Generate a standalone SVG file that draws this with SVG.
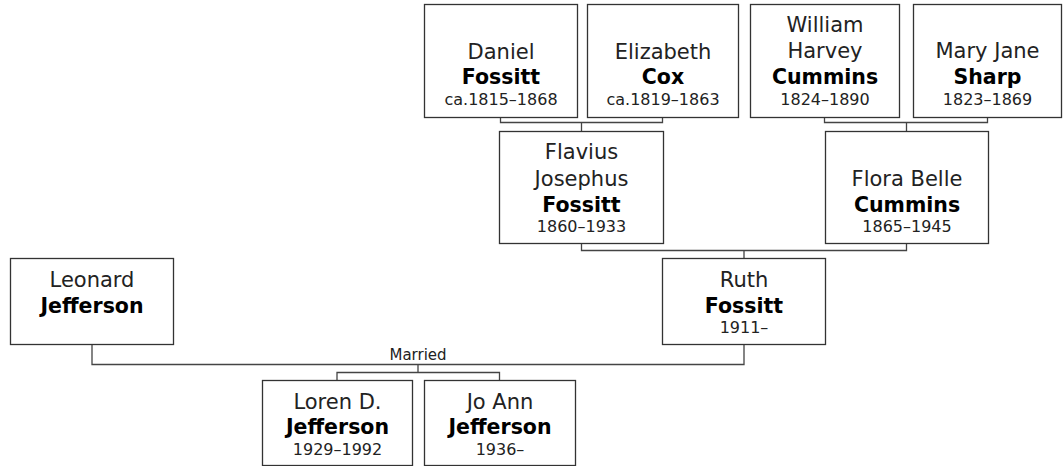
<svg xmlns="http://www.w3.org/2000/svg" width="1063" height="466" viewBox="0 0 1063 466">
<style>
.box{fill:#fff;stroke:#333;stroke-width:1.3}
.n{font-family:"DejaVu Sans",Verdana,sans-serif;font-size:21px;fill:#222;text-anchor:middle}
.b{font-family:"DejaVu Sans",Verdana,sans-serif;font-size:20.5px;font-weight:bold;fill:#000;text-anchor:middle}
.d{font-family:"DejaVu Sans",Verdana,sans-serif;font-size:16px;fill:#222;text-anchor:middle}
.m{font-family:"DejaVu Sans",Verdana,sans-serif;font-size:15px;fill:#222;text-anchor:middle}
.c{fill:none;stroke:#444;stroke-width:1.3}
</style>
<rect width="1063" height="466" fill="#fff"/>
<g id="connectors">
<path class="c" d="M500.5 117 V122.5 H662.5 V117 M581.5 122.5 V131"/>
<path class="c" d="M824.5 117 V122.5 H987.5 V117 M906.5 122.5 V131"/>
<path class="c" d="M581.5 243 V250.5 H906.5 V243 M744 250.5 V258"/>
<path class="c" d="M92 344 V364.5 H744 V344 M418 364.5 V372.5 M337 380 V372.5 H499.5 V380"/>
<text class="m" x="418" y="360">Married</text>
</g>
<g id="daniel">
<rect class="box" x="424.5" y="4.5" width="153" height="113"/>
<text class="n" x="501" y="59">Daniel</text>
<text class="b" x="501" y="84">Fossitt</text>
<text class="d" x="501" y="105">ca.1815–1868</text>
</g>
<g id="elizabeth">
<rect class="box" x="587.5" y="4.5" width="151" height="113"/>
<text class="n" x="663" y="59">Elizabeth</text>
<text class="b" x="663" y="84">Cox</text>
<text class="d" x="663" y="105">ca.1819–1863</text>
</g>
<g id="william">
<rect class="box" x="750.5" y="4.5" width="149" height="113"/>
<text class="n" x="825" y="32">William</text>
<text class="n" x="825" y="58">Harvey</text>
<text class="b" x="825" y="84">Cummins</text>
<text class="d" x="825" y="105">1824–1890</text>
</g>
<g id="maryjane">
<rect class="box" x="913.5" y="4.5" width="148" height="113"/>
<text class="n" x="987.5" y="58">Mary Jane</text>
<text class="b" x="987.5" y="84">Sharp</text>
<text class="d" x="987.5" y="105">1823–1869</text>
</g>
<g id="flavius">
<rect class="box" x="499.5" y="131.5" width="164" height="112"/>
<text class="n" x="581.5" y="159">Flavius</text>
<text class="n" x="581.5" y="185.5">Josephus</text>
<text class="b" x="581.5" y="212">Fossitt</text>
<text class="d" x="581.5" y="232">1860–1933</text>
</g>
<g id="flora">
<rect class="box" x="825.5" y="131.5" width="163" height="112"/>
<text class="n" x="907" y="185.5">Flora Belle</text>
<text class="b" x="907" y="212">Cummins</text>
<text class="d" x="907" y="232">1865–1945</text>
</g>
<g id="leonard">
<rect class="box" x="10.5" y="258.5" width="163" height="86"/>
<text class="n" x="92" y="287">Leonard</text>
<text class="b" x="92" y="313">Jefferson</text>
</g>
<g id="ruth">
<rect class="box" x="662.5" y="258.5" width="163" height="86"/>
<text class="n" x="744" y="287">Ruth</text>
<text class="b" x="744" y="313">Fossitt</text>
<text class="d" x="744" y="333">1911–</text>
</g>
<g id="loren">
<rect class="box" x="262.5" y="380.5" width="150" height="85"/>
<text class="n" x="337.5" y="408.5">Loren D.</text>
<text class="b" x="337.5" y="434">Jefferson</text>
<text class="d" x="337.5" y="455">1929–1992</text>
</g>
<g id="joann">
<rect class="box" x="424.5" y="380.5" width="151" height="85"/>
<text class="n" x="500" y="408.5">Jo Ann</text>
<text class="b" x="500" y="434">Jefferson</text>
<text class="d" x="500" y="455">1936–</text>
</g>
</svg>
